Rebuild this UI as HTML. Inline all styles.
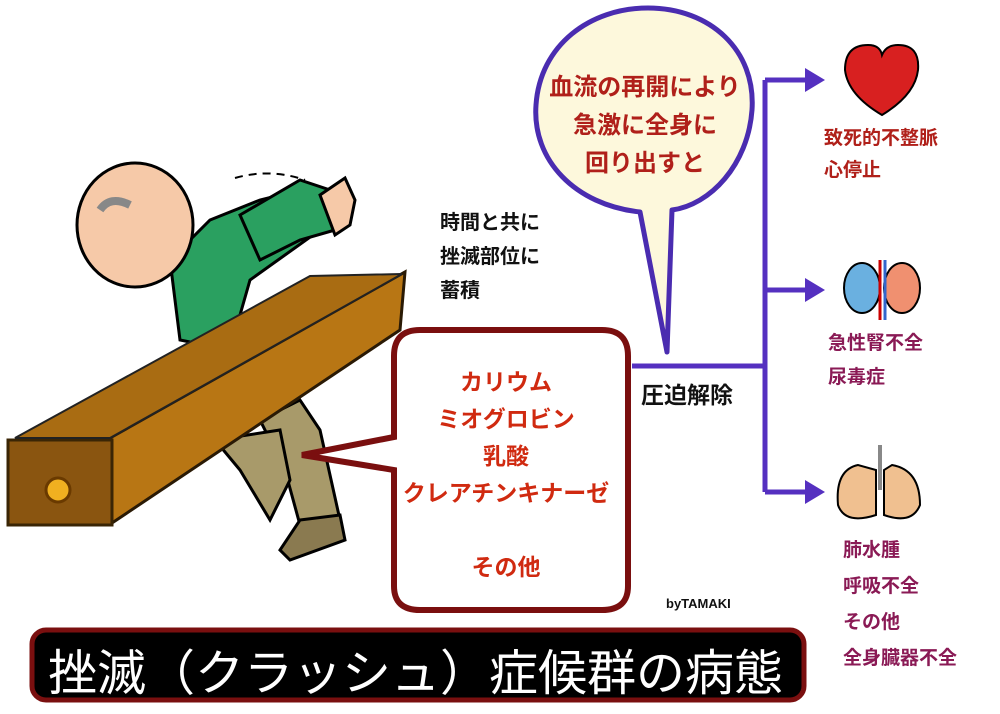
<!DOCTYPE html>
<html><head><meta charset="utf-8"><style>
body{margin:0;width:1000px;height:714px;background:#fff;overflow:hidden;position:relative;font-family:"Liberation Sans","Noto Sans CJK JP",sans-serif;font-weight:bold}
.t{position:absolute;white-space:nowrap}
</style></head><body>
<svg width="1000" height="714" style="position:absolute;left:0;top:0">
<path d="M170,260 L210,220 L260,200 L300,190 L320,230 L250,280 L230,350 L180,340 Z" fill="#2aa060" stroke="#000" stroke-width="3"/>
<path d="M240,215 L300,180 L330,190 L335,230 L300,240 L260,260 Z" fill="#2aa060" stroke="#000" stroke-width="3"/>
<path d="M320,195 L345,178 L355,200 L350,225 L335,235 Z" fill="#f6c9a8" stroke="#000" stroke-width="3"/>
<ellipse cx="135" cy="225" rx="58" ry="62" fill="#f6c9a8" stroke="#000" stroke-width="3"/>
<path d="M100,210 Q110,195 130,205" stroke="#888" stroke-width="8" fill="none"/>
<path d="M260,420 L300,400 L320,430 L340,520 L300,525 L285,470 Z" fill="#a89a6a" stroke="#000" stroke-width="3"/>
<path d="M215,440 L280,430 L290,480 L270,520 L240,470 Z" fill="#a89a6a" stroke="#000" stroke-width="3"/>
<path d="M300,520 L340,515 L345,540 L290,560 L280,550 Z" fill="#8a7a50" stroke="#000" stroke-width="3"/>
<path d="M235,178 Q270,168 305,180" stroke="#000" stroke-width="2" stroke-dasharray="8,6" fill="none"/>
<polygon points="110,438 405,272 400,330 112,523" fill="#b87614" stroke="#2a1a05" stroke-width="3"/>
<polygon points="8,440 112,440 112,525 8,525" fill="#8a5510" stroke="#3a2505" stroke-width="3"/>
<polygon points="15,438 110,438 402,274 310,276" fill="#a96c12" stroke="#222" stroke-width="2"/>
<circle cx="58" cy="490" r="12" fill="#f0b020" stroke="#6a3a00" stroke-width="3"/>
<path d="M420,330 H602 Q628,330 628,356 V586 Q628,610 602,610 H420 Q394,610 394,586 V470 L302,455 L394,437 V356 Q394,330 420,330 Z" fill="#fff" stroke="#7a0f0f" stroke-width="6"/>
<path d="M640,212 C575,205 532,160 536,105 C540,45 590,8 648,8 C710,8 756,50 752,110 C748,165 710,205 672,210 L667,352 Z" fill="#fdf8dc" stroke="#4a2cb0" stroke-width="5" stroke-linejoin="round"/>
<g stroke="#5530c0" stroke-width="5" fill="none">
<path d="M632,366 H765"/><path d="M765,80 V492"/>
<path d="M765,80 H810"/><path d="M765,290 H810"/><path d="M765,492 H810"/>
</g>
<g fill="#5530c0">
<polygon points="805,68 825,80 805,92"/><polygon points="805,278 825,290 805,302"/><polygon points="805,480 825,492 805,504"/>
</g>
<path d="M845,70 Q845,45 868,45 Q880,45 882,55 Q886,45 898,45 Q920,45 918,70 Q915,95 882,115 Q848,95 845,70 Z" fill="#d82020" stroke="#000" stroke-width="2"/>
<ellipse cx="862" cy="288" rx="18" ry="25" fill="#6ab0e0" stroke="#000" stroke-width="2"/>
<ellipse cx="902" cy="288" rx="18" ry="25" fill="#f09070" stroke="#000" stroke-width="2"/>
<path d="M880,260 V320" stroke="#c00" stroke-width="3"/><path d="M885,260 V320" stroke="#36c" stroke-width="3"/>
<path d="M858,465 Q835,470 838,505 Q845,525 876,515 L876,470 Z" fill="#f0c090" stroke="#000" stroke-width="2"/>
<path d="M892,465 Q920,470 920,505 Q912,525 884,515 L884,470 Z" fill="#f0c090" stroke="#000" stroke-width="2"/>
<path d="M880,445 V490" stroke="#888" stroke-width="4"/>
<rect x="32" y="630" width="772" height="70" rx="14" fill="#000" stroke="#7a0f0f" stroke-width="5"/>
</svg>
<div class="t" style="left:398px;top:364px;width:216px;text-align:center;color:#d02a10;font-size:23px;line-height:37px">カリウム<br>ミオグロビン<br>乳酸<br>クレアチンキナーゼ<br><br>その他</div>
<div class="t" style="left:535px;top:69px;width:220px;text-align:center;color:#b0201a;font-size:24px;line-height:38px">血流の再開により<br>急激に全身に<br>回り出すと</div>
<div class="t" style="left:440px;top:206px;color:#111;font-size:20px;line-height:34px">時間と共に<br>挫滅部位に<br>蓄積</div>
<div class="t" style="left:641px;top:376px;color:#111;font-size:23px">圧迫解除</div>
<div class="t" style="left:666px;top:596px;color:#111;font-size:13px">byTAMAKI</div>
<div class="t" style="left:824px;top:123px;color:#b0201a;font-size:19px;line-height:32px">致死的不整脈<br>心停止</div>
<div class="t" style="left:828px;top:327px;color:#8a1a55;font-size:19px;line-height:34px">急性腎不全<br>尿毒症</div>
<div class="t" style="left:843px;top:533px;color:#8a1a55;font-size:19px;line-height:36px">肺水腫<br>呼吸不全<br>その他<br>全身臓器不全</div>
<div class="t" style="left:48px;top:634px;color:#fff;font-size:49px;font-weight:normal">挫滅（クラッシュ）症候群の病態</div>
</body></html>
